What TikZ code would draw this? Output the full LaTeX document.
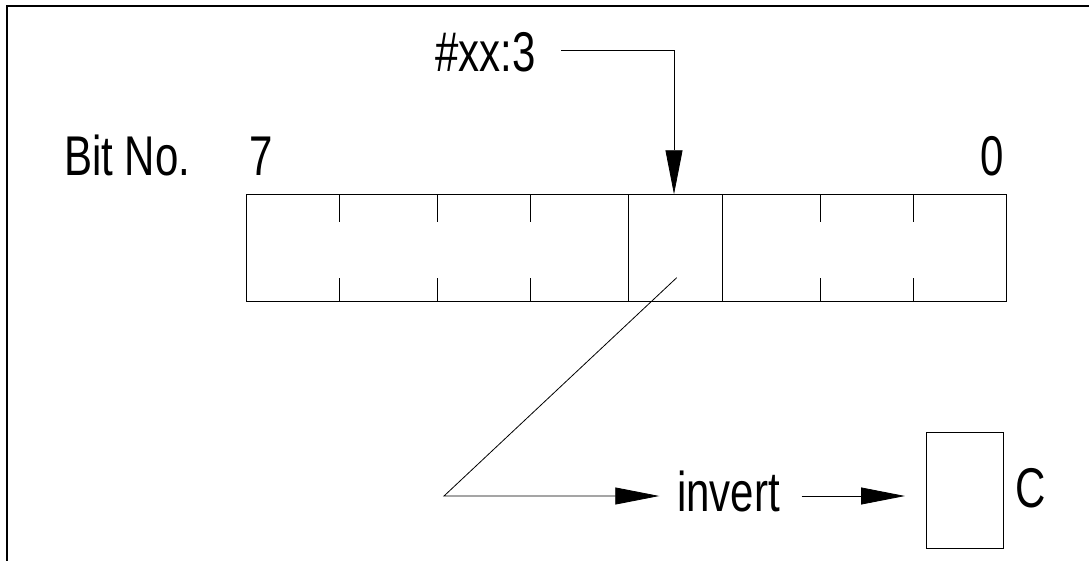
\documentclass[tikz,border=0pt]{standalone}
\usepackage{fontspec}
\setmainfont{Liberation Sans}[FakeStretch=0.75]
\usetikzlibrary{arrows.meta}
\begin{document}
\begin{tikzpicture}[x=1pt,y=-1pt,
  lbl/.style={font=\fontsize{56}{60}\selectfont, inner sep=0pt, anchor=base west},
  ln/.style={line width=0.8pt},
  tip/.style={-{Triangle[length=44pt,width=17pt]}},
  cellbox/.style={minimum width=94pt, minimum height=107pt, inner sep=0pt, anchor=north west}]
\useasboundingbox (0,0) rectangle (1089,561);
% frame
\draw[line width=2pt] (7,561) -- (7,6) -- (1089,6);
% labels
\node[lbl] (bitno) at (64,176) {Bit No.};
\node[lbl] (b7) at (249,176) {7};
\node[lbl] (b0) at (980,176) {0};
\node[lbl] (xx) at (435,72) {\#xx:3};
\node[lbl] (inv) at (677,511) {invert};
\node[lbl] (c) at (1015,507) {C};
% register
\node[draw, ln, minimum width=760pt, minimum height=107pt, inner sep=0pt, anchor=north west] (reg) at (245.5,194.3) {};
\node[draw, ln, cellbox] (cell3) at (628.3,194.3) {};
\foreach \x in {339.3,437.3,530.7,820,913.3}{
  \draw[ln] (\x,194.3) -- (\x,222);
  \draw[ln] (\x,278.3) -- (\x,301.3);
}
% pointer from #xx:3
\coordinate (xxr) at (561,50);
\coordinate (bend) at (674,50);
\draw[ln,tip] (xxr) -- (bend) -- (bend |- cell3.north);
% bit to invert
\coordinate (src) at (676.7,277.7);
\coordinate (vtx) at (444,496);
\coordinate (t1) at (659.3,496);
\draw[ln,tip] (src) -- (vtx) -- (t1);
% C flag
\node[draw, ln, minimum width=76.6pt, minimum height=116pt, inner sep=0pt] (cbox) at (965,490.3) {};
\coordinate (a2s) at (801.7,496);
\coordinate (a2e) at (905,496);
\draw[ln,tip] (a2s) -- (a2e);
\end{tikzpicture}
\end{document}
